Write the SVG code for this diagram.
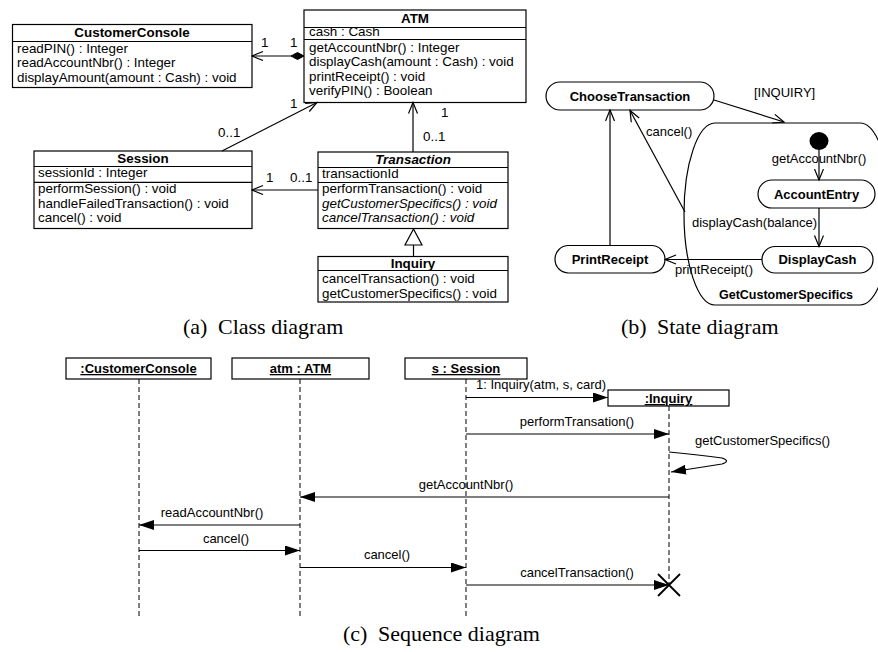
<svg xmlns="http://www.w3.org/2000/svg" width="878" height="652" viewBox="0 0 878 652">
<style>
  text { font-family: "Liberation Sans", Arial, sans-serif; font-size: 13.4px; fill: #000; }
  .b { font-weight: bold; }
  .i { font-style: italic; }
  .c { text-anchor: middle; }
  .u { text-decoration: underline; }
  .st { font-size: 13px; }
  .sq { font-size: 13px; }
  .cap { font-family: "Liberation Serif", "Times New Roman", serif; font-size: 22px; }
  .box { fill: #fff; stroke: #000; stroke-width: 1.2; }
  .ln { fill: none; stroke: #000; stroke-width: 1.2; }
  .ll { fill: none; stroke: #000; stroke-width: 1; stroke-dasharray: 5 3; }
  .oa { marker-end: url(#open); }
  .fa { marker-end: url(#fill); }
</style>
<defs>
  <marker id="open" markerWidth="13" markerHeight="11" refX="11.5" refY="5" orient="auto" markerUnits="userSpaceOnUse">
    <path d="M0.5,0.5 L11.5,5 L0.5,9.5" fill="none" stroke="#000" stroke-width="1.2"/>
  </marker>
  <marker id="fill" markerWidth="16" markerHeight="10" refX="15" refY="5" orient="auto" markerUnits="userSpaceOnUse">
    <path d="M0,0 L15,5 L0,10 z" fill="#000"/>
  </marker>
</defs>

<!-- ===== (a) Class diagram ===== -->
<g id="CustomerConsole">
  <rect class="box" x="12.5" y="24.5" width="239.5" height="63"/>
  <line class="ln" x1="12.5" y1="41.5" x2="252" y2="41.5"/>
  <text class="b c" x="132" y="37">CustomerConsole</text>
  <text x="17" y="52.5">readPIN() : Integer</text>
  <text x="17" y="67">readAccountNbr() : Integer</text>
  <text x="17" y="81.5">displayAmount(amount : Cash) : void</text>
</g>
<g id="ATM">
  <rect class="box" x="304" y="10" width="222" height="92.5"/>
  <line class="ln" x1="304" y1="27.5" x2="526" y2="27.5"/>
  <line class="ln" x1="304" y1="39.5" x2="526" y2="39.5"/>
  <text class="b c" x="415" y="23">ATM</text>
  <text x="309" y="36">cash : Cash</text>
  <text x="309" y="52">getAccountNbr() : Integer</text>
  <text x="309" y="66.3">displayCash(amount : Cash) : void</text>
  <text x="309" y="80.6">printReceipt() : void</text>
  <text x="309" y="94.9">verifyPIN() : Boolean</text>
</g>
<g id="Session">
  <rect class="box" x="34" y="151" width="218" height="77.5"/>
  <line class="ln" x1="34" y1="166.5" x2="252" y2="166.5"/>
  <line class="ln" x1="34" y1="182.3" x2="252" y2="182.3"/>
  <text class="b c" x="143" y="163">Session</text>
  <text x="38" y="177.3">sessionId : Integer</text>
  <text x="38" y="193">performSession() : void</text>
  <text x="38" y="207.8">handleFailedTransaction() : void</text>
  <text x="38" y="222.3">cancel() : void</text>
</g>
<g id="Transaction">
  <rect class="box" x="318" y="152" width="190" height="76.5"/>
  <line class="ln" x1="318" y1="167.5" x2="508" y2="167.5"/>
  <line class="ln" x1="318" y1="182.5" x2="508" y2="182.5"/>
  <text class="b i c" x="413" y="164">Transaction</text>
  <text x="322" y="177.5">transactionId</text>
  <text x="322" y="193">performTransaction() : void</text>
  <text class="i" x="322" y="207.5">getCustomerSpecifics() : void</text>
  <text class="i" x="322" y="222">cancelTransaction() : void</text>
</g>
<g id="Inquiry">
  <rect class="box" x="318" y="256.5" width="190" height="45.5"/>
  <line class="ln" x1="318" y1="270.5" x2="508" y2="270.5"/>
  <text class="b c" x="413" y="267.5">Inquiry</text>
  <text x="322" y="283">cancelTransaction() : void</text>
  <text x="322" y="297.5">getCustomerSpecifics() : void</text>
</g>

<!-- ===== (b) State diagram ===== -->
<g id="GetCustomerSpecifics">
  <rect class="ln" x="684" y="123" width="207" height="182" rx="31" ry="91"/>
  <text class="b" x="719" y="299" style="font-size:12.5px">GetCustomerSpecifics</text>
</g>
<g id="ChooseTransaction">
  <rect class="box" x="546" y="82" width="168" height="28" rx="14"/>
  <text class="b c st" x="630" y="100.5">ChooseTransaction</text>
</g>
<g id="InitialState">
  <ellipse cx="819" cy="141" rx="9.5" ry="9" fill="#000"/>
</g>
<g id="AccountEntry">
  <rect class="box" x="758" y="180" width="117" height="28" rx="14"/>
  <text class="b c st" x="816.5" y="198.5">AccountEntry</text>
</g>
<g id="DisplayCash">
  <rect class="box" x="762" y="246.5" width="111" height="26.5" rx="13"/>
  <text class="b c st" x="817.5" y="264">DisplayCash</text>
</g>
<g id="PrintReceipt">
  <rect class="box" x="555" y="245.5" width="110" height="27.5" rx="13.5"/>
  <text class="b c st" x="610" y="264">PrintReceipt</text>
</g>

<!-- ===== (c) Sequence diagram heads ===== -->
<g id="seqCustomerConsole">
  <rect class="box" x="66" y="358" width="145" height="21"/>
  <text class="b c u sq" x="138.5" y="373">:CustomerConsole</text>
</g>
<g id="seqATM">
  <rect class="box" x="232" y="358" width="137" height="21"/>
  <text class="b c u sq" x="300.5" y="373">atm : ATM</text>
</g>
<g id="seqSession">
  <rect class="box" x="405" y="358" width="122" height="21"/>
  <text class="b c u sq" x="466" y="373">s : Session</text>
</g>
<g id="seqInquiry">
  <rect class="box" x="608" y="390" width="121" height="16"/>
  <text class="b c u sq" x="668.5" y="403">:Inquiry</text>
</g>

<!-- ===== Connectors ===== -->
<g id="connectors">
  <!-- class diagram -->
  <line class="ln oa" x1="292" y1="56" x2="252" y2="56"/>
  <polygon points="291,56 297.5,52.5 304,56 297.5,59.5" fill="#000" stroke="#000" stroke-width="1"/>
  <text x="261" y="47">1</text>
  <text x="290" y="47">1</text>

  <line class="ln oa" x1="222" y1="151" x2="317" y2="102.5"/>
  <text x="290" y="108">1</text>
  <text x="218" y="136.5">0..1</text>

  <line class="ln oa" x1="413" y1="152" x2="413" y2="102.5"/>
  <text x="441" y="117">1</text>
  <text x="423" y="140.5">0..1</text>

  <line class="ln oa" x1="318" y1="190" x2="252" y2="190"/>
  <text x="266" y="181.5">1</text>
  <text x="290" y="181.5">0..1</text>

  <line class="ln" x1="413.5" y1="245" x2="413.5" y2="256.5"/>
  <polygon points="413.5,229 405,245 422,245" fill="#fff" stroke="#000" stroke-width="1.2"/>

  <!-- state diagram -->
  <line class="ln oa" x1="714" y1="100" x2="784" y2="122"/>
  <text class="st" x="754" y="97">[INQUIRY]</text>
  <line class="ln oa" x1="819" y1="150" x2="819" y2="180"/>
  <text class="c st" x="819" y="163">getAccountNbr()</text>
  <line class="ln oa" x1="819" y1="208" x2="819" y2="246.5"/>
  <text class="st" x="692" y="227">displayCash(balance)</text>
  <line class="ln oa" x1="762" y1="259.5" x2="665" y2="259.5"/>
  <text class="st" x="675" y="274">printReceipt()</text>
  <line class="ln oa" x1="610" y1="245.5" x2="610" y2="110"/>
  <line class="ln oa" x1="685" y1="212" x2="630" y2="110.5"/>
  <text class="st" x="646" y="136">cancel()</text>

  <!-- sequence lifelines -->
  <line class="ll" x1="139" y1="379" x2="139" y2="616"/>
  <line class="ll" x1="300" y1="379" x2="300" y2="616"/>
  <line class="ll" x1="466" y1="379" x2="466" y2="616"/>
  <line class="ll" x1="669" y1="406" x2="669" y2="585"/>

  <!-- sequence messages -->
  <line class="ln fa" x1="466" y1="397.5" x2="608" y2="397.5"/>
  <text class="sq" x="476" y="389">1: Inquiry(atm, s, card)</text>

  <line class="ln fa" x1="466" y1="434" x2="669" y2="434"/>
  <text class="c sq" x="577" y="426">performTransation()</text>

  <path class="ln fa" d="M669,452 Q700,455 722,458 Q731,461 722,464 L671,472"/>
  <text class="sq" x="695" y="445">getCustomerSpecifics()</text>

  <line class="ln fa" x1="669" y1="497" x2="300" y2="497"/>
  <text class="c sq" x="466" y="489">getAccountNbr()</text>

  <line class="ln fa" x1="300" y1="525" x2="139" y2="525"/>
  <text class="c sq" x="212" y="517">readAccountNbr()</text>

  <line class="ln fa" x1="139" y1="550.5" x2="300" y2="550.5"/>
  <text class="c sq" x="226" y="543">cancel()</text>

  <line class="ln fa" x1="300" y1="567.5" x2="466" y2="567.5"/>
  <text class="c sq" x="387" y="559">cancel()</text>

  <line class="ln fa" x1="466" y1="585" x2="669" y2="585"/>
  <text class="c sq" x="577" y="577">cancelTransaction()</text>
  <path d="M658,574 L680,596 M680,574 L658,596" stroke="#000" stroke-width="1.8" fill="none"/>
</g>

<!-- captions -->
<text class="cap" x="183" y="334">(a)<tspan x="218">Class diagram</tspan></text>
<text class="cap" x="621" y="334">(b)<tspan x="657">State diagram</tspan></text>
<text class="cap" x="343" y="641">(c)<tspan x="378">Sequence diagram</tspan></text>
</svg>
